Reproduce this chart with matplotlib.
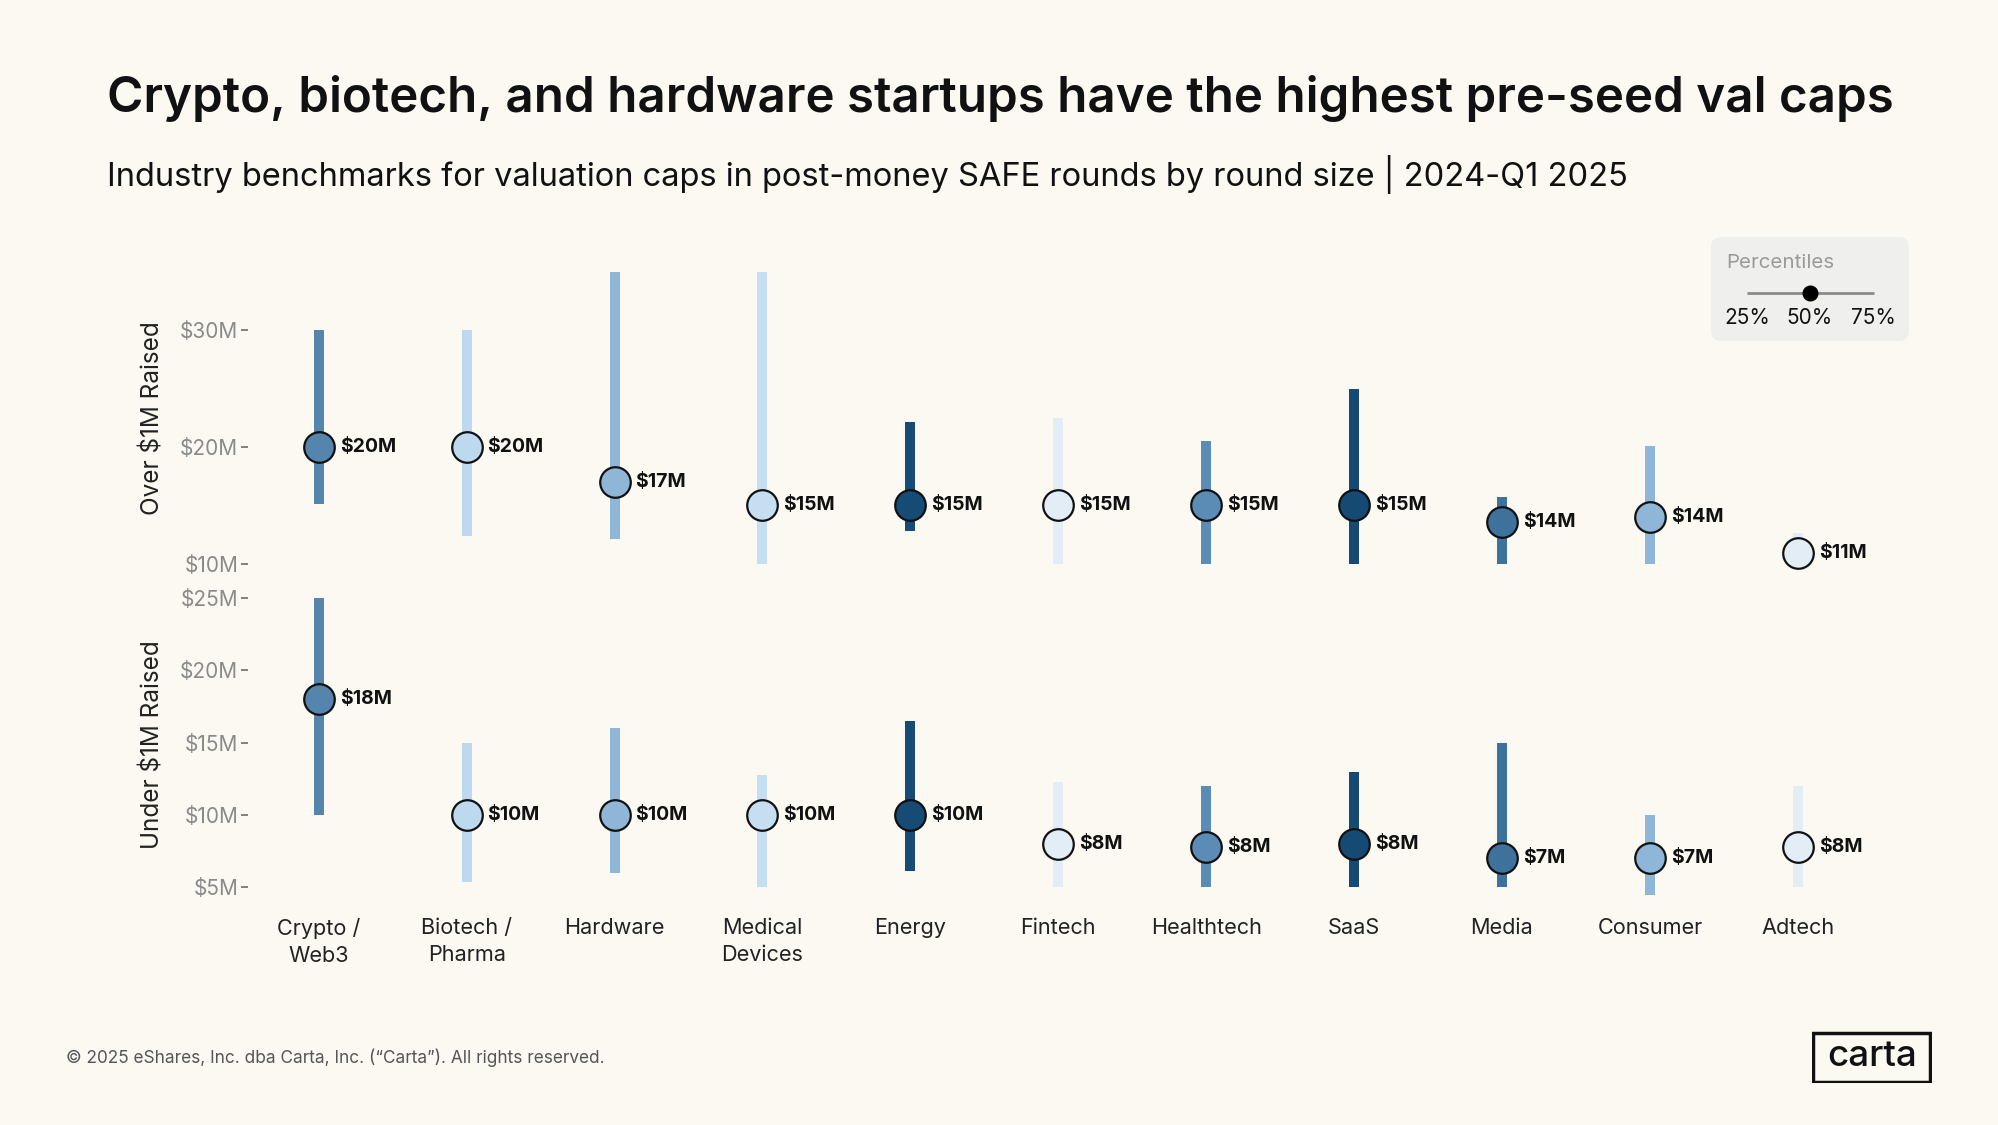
import matplotlib
matplotlib.use("Agg")
import matplotlib.pyplot as plt
from matplotlib.patches import FancyBboxPatch, Rectangle

# ------------------------- data -------------------------
industries = ["Crypto /\nWeb3", "Biotech /\nPharma", "Hardware", "Medical\nDevices", "Energy",
              "Fintech", "Healthtech", "SaaS", "Media", "Consumer", "Adtech"]
colors = ["#5585ad", "#bdd9ef", "#8fb6d6", "#c6def1", "#154b75",
          "#e3edf6", "#5a8cb5", "#154a74", "#3e719b", "#8db6d7", "#e3edf6"]

# Over $1M raised (valuation cap, $M)
over_p25 = [15.1, 12.4, 12.1, 10.0, 12.8, 10.0, 10.0, 10.0, 10.0, 10.0, 10.0]
over_p50 = [20.0, 20.0, 17.0, 15.0, 15.0, 15.0, 15.0, 15.0, 13.6, 14.0, 10.9]
over_p75 = [30.0, 30.0, 35.0, 35.0, 22.1, 22.5, 20.5, 25.0, 15.7, 20.1, 12.6]

# Under $1M raised
under_p25 = [10.0, 5.4, 6.0, 5.0, 6.1, 5.0, 5.0, 5.0, 5.0, 4.5, 5.0]
under_p50 = [18.0, 10.0, 10.0, 10.0, 10.0, 8.0, 7.8, 8.0, 7.0, 7.0, 7.8]
under_p75 = [25.0, 15.0, 16.0, 12.8, 16.5, 12.3, 12.0, 13.0, 15.0, 10.0, 12.0]

over_ticks = [10, 20, 30]
under_ticks = [5, 10, 15, 20, 25]

# ------------------------- style -------------------------
BG = "#fcf9f3"
plt.rcParams['font.family'] = ['Inter', 'DejaVu Sans']
W, H = 1999, 1125

fig = plt.figure(figsize=(W / 100, H / 100), dpi=100, facecolor=BG)


def px_axes(left, top, right, bottom):
    return fig.add_axes([left / W, 1 - bottom / H, (right - left) / W, (bottom - top) / H])


X0, DX = 318.8, 147.9  # pixel position of first category and spacing
AX_L, AX_R = 248, 1900


def draw_panel(ax, p25, p50, p75, ticks, ylim):
    ax.set_facecolor("none")
    xs = range(len(p50))
    for x, lo, md, hi, c in zip(xs, p25, p50, p75, colors):
        ax.plot([x, x], [lo, hi], color=c, lw=7.2, solid_capstyle="butt", zorder=1)
        ax.plot(x, md, "o", ms=22, mfc=c, mec="#111111", mew=1.6, zorder=3)
        ax.annotate(f"${round(md)}M", (x, md), xytext=(15, 0), textcoords="offset points",
                    va="center", ha="left", fontsize=14, fontweight="bold", color="#111111", zorder=4)
    ax.set_xlim((AX_L - X0) / DX, (AX_R - X0) / DX)
    ax.set_ylim(*ylim)
    ax.set_yticks(ticks)
    ax.set_yticklabels([f"${t}M" for t in ticks])
    ax.tick_params(axis="y", length=5, width=1.3, color="#777777", pad=2,
                   labelsize=15, labelcolor="#8a8a8a")
    ax.set_xticks([])
    for s in ax.spines.values():
        s.set_visible(False)
    return ax


# top panel: $30M at y=330px, $10M at y=563px
ax1 = px_axes(AX_L, 262, AX_R, 582)
draw_panel(ax1, over_p25, over_p50, over_p75, over_ticks,
           (20 - (582 - 447) / 11.667, 20 + (447 - 262) / 11.667))
# bottom panel: $25M at y=598px, $5M at y=887px
ax2 = px_axes(AX_L, 590, AX_R, 905)
draw_panel(ax2, under_p25, under_p50, under_p75, under_ticks,
           (10 - (905 - 815) / 14.46, 10 + (815 - 590) / 14.46))

fig.text(152 / W, 1 - 418 / H, "Over $1M Raised", rotation=90, ha="center", va="center",
         fontsize=17.5, color="#222222")
fig.text(152 / W, 1 - 745 / H, "Under $1M Raised", rotation=90, ha="center", va="center",
         fontsize=17.5, color="#222222")

# category labels
for i, name in enumerate(industries):
    fig.text((X0 + i * DX) / W, 1 - 918 / H, name, ha="center", va="top",
             fontsize=15.6, color="#222222", linespacing=1.45)

# title / subtitle / footer
fig.text(107 / W, 1 - 98 / H, "Crypto, biotech, and hardware startups have the highest pre-seed val caps",
         ha="left", va="center", fontsize=35.5, fontweight="semibold", color="#111111")
fig.text(107 / W, 1 - 174 / H,
         "Industry benchmarks for valuation caps in post-money SAFE rounds by round size | 2024-Q1 2025",
         ha="left", va="center", fontsize=23.5, color="#111111")
fig.text(66 / W, 1 - 1058 / H, "\u00a9 2025 eShares, Inc. dba Carta, Inc. (\u201cCarta\u201d). All rights reserved.",
         ha="left", va="center", fontsize=12.4, color="#555555")

# ------------------------- legend -------------------------
lg = px_axes(1711, 237, 1909, 341)
lg.set_xlim(0, 198)
lg.set_ylim(104, 0)
lg.axis("off")
lg.add_patch(FancyBboxPatch((0, 0), 198, 104, boxstyle="round,pad=0,rounding_size=10",
                            fc="#efefee", ec="none"))
lg.text(15, 26, "Percentiles", ha="left", va="center", fontsize=14.8, color="#9a9a9a")
lg.plot([36, 163], [56, 56], color="#8a8a8a", lw=2, solid_capstyle="butt")
lg.plot(99, 56, "o", ms=10.5, color="#000000")
for xp, lab in zip([36, 99, 162], ["25%", "50%", "75%"]):
    lg.text(xp, 81, lab, ha="center", va="center", fontsize=15, color="#111111")

# ------------------------- logo -------------------------
lo = px_axes(1812, 1031, 1932, 1083)
lo.set_xlim(0, 120)
lo.set_ylim(52, 0)
lo.axis("off")
lo.add_patch(Rectangle((1.5, 1.5), 117, 49, fill=False, ec="#111111", lw=2.5))
lo.text(60, 25, "carta", ha="center", va="center", fontsize=26.5, fontweight="medium", color="#111111")

fig.savefig("out.png", dpi=100, facecolor=BG)
